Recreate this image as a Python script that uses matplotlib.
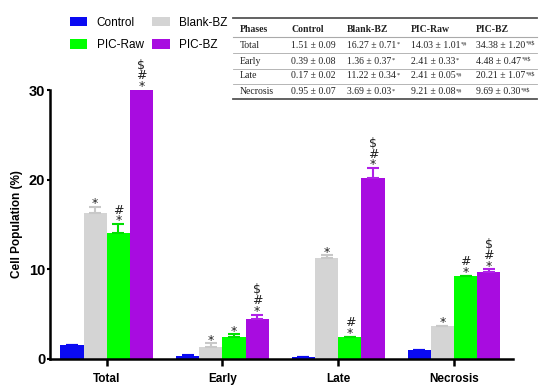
import numpy as np
import matplotlib.pyplot as plt
from matplotlib.lines import Line2D

phases = ['Total', 'Early', 'Late', 'Necrosis']
groups = ['Control', 'Blank-BZ', 'PIC-Raw', 'PIC-BZ']
colors = ['#0a0af2', '#d4d4d4', '#00ff00', '#a80ce0']
err_colors = ['#0a0af2', '#c8c8c8', '#00e000', '#b020e8']

means = {
    'Control': [1.51, 0.39, 0.17, 0.95],
    'Blank-BZ': [16.27, 1.36, 11.22, 3.69],
    'PIC-Raw': [14.03, 2.41, 2.41, 9.21],
    'PIC-BZ': [34.38, 4.48, 20.21, 9.69],
}
sds = {
    'Control': [0.09, 0.08, 0.02, 0.07],
    'Blank-BZ': [0.71, 0.37, 0.34, 0.03],
    'PIC-Raw': [1.01, 0.33, 0.05, 0.08],
    'PIC-BZ': [1.20, 0.47, 1.07, 0.30],
}
# significance marks (* vs control, # vs blank, $ vs raw)
marks = {
    'Control': ['', '', '', ''],
    'Blank-BZ': ['*', '*', '*', '*'],
    'PIC-Raw': ['*#', '*', '*#', '*#'],
    'PIC-BZ': ['*#$', '*#$', '*#$', '*#$'],
}

W, H = 550, 390


def fx(px):
    return px / W


def fy(py):
    return 1 - py / H


plt.rcParams['font.family'] = ['Liberation Sans', 'DejaVu Sans']
fig = plt.figure(figsize=(5.5, 3.9), dpi=100)
ax = fig.add_axes([fx(50), fy(359), fx(513) - fx(50), fy(90) - fy(359)])

x = np.arange(len(phases))
bw = 0.2
ymax = 30
for i, g in enumerate(groups):
    pos = x + (i - 1.5) * bw
    vals = np.array(means[g])
    errs = np.array(sds[g])
    ax.bar(pos, vals, bw, color=colors[i], label=g, zorder=2)
    ax.errorbar(pos, vals, yerr=[np.zeros_like(errs), errs], fmt='none',
                ecolor=err_colors[i], elinewidth=1.5, capsize=4.5, capthick=1.5, zorder=3)
    # stacked significance symbols above each bar ($ on top, * at the bottom)
    for p, v, e, m in zip(pos, vals, errs, marks[g]):
        if not m:
            continue
        base = min(v + e, ymax)
        ax.annotate('\n'.join(reversed(m)), xy=(p, base), xytext=(0, -2.3),
                    textcoords='offset points', ha='center', va='bottom',
                    fontsize=9, linespacing=0.78, family='DejaVu Sans',
                    color='#222222', annotation_clip=False)

ax.set_xlim(-0.49, 3.51)
ax.set_ylim(0, ymax)
ax.set_yticks([0, 10, 20, 30])
ax.set_xticks(x)
ax.set_xticklabels(phases, fontsize=8.5, fontweight='bold')
for lbl in ax.get_yticklabels():
    lbl.set_fontsize(10.5)
    lbl.set_fontweight('bold')
ax.set_ylabel('Cell Population (%)', fontsize=8.5, fontweight='bold', labelpad=4)
ax.spines['top'].set_visible(False)
ax.spines['right'].set_visible(False)
ax.spines['left'].set_linewidth(1.8)
ax.spines['bottom'].set_linewidth(1.8)
ax.tick_params(axis='y', length=2, width=1.5, pad=1.5)
ax.tick_params(axis='x', length=5, width=1.8, pad=5)

handles, labels = ax.get_legend_handles_labels()
order = [0, 2, 1, 3]
fig.legend([handles[k] for k in order], [labels[k] for k in order],
           loc='upper left', bbox_to_anchor=(fx(59), fy(6)), ncol=2, frameon=False,
           fontsize=8.5, handlelength=1.5, handleheight=0.9, labelspacing=0.9,
           columnspacing=0.7, handletextpad=0.8)

# summary table in the upper right
col_x = [240, 291, 347, 411, 476]
row_y = [29, 45, 61, 76, 92]
serif = ['Liberation Serif', 'DejaVu Serif']
for cx, head in zip(col_x, ['Phases'] + groups):
    fig.text(fx(cx), fy(row_y[0]), head, ha='left', va='center', fontweight='bold',
             family=serif, fontsize=7, color='#222222')
for r, ph in enumerate(phases):
    yy = fy(row_y[r + 1])
    fig.text(fx(col_x[0]), yy, ph, ha='left', va='center', family=serif, fontsize=7,
             color='#222222')
    for c, g in enumerate(groups):
        t = fig.text(fx(col_x[c + 1]), yy, f'{means[g][r]:.2f} ± {sds[g][r]:.2f}',
                     ha='left', va='center', family=serif, fontsize=7, color='#222222')
        if marks[g][r]:
            ax.annotate(marks[g][r], xy=(1, 1), xycoords=t, xytext=(0.3, -1.0),
                        textcoords='offset points', ha='left', va='top',
                        family=serif, fontsize=4.5, color='#222222',
                        annotation_clip=False)

line_specs = [(18, 1.3), (37, 0.8), (53, 0.6), (69, 0.6), (84, 0.6), (99, 1.3)]
for py, lw in line_specs:
    fig.add_artist(Line2D([fx(233), fx(537)], [fy(py), fy(py)], transform=fig.transFigure,
                          color='#555555' if lw > 1 else '#aaaaaa', linewidth=lw))

fig.savefig('out.png', dpi=100)
